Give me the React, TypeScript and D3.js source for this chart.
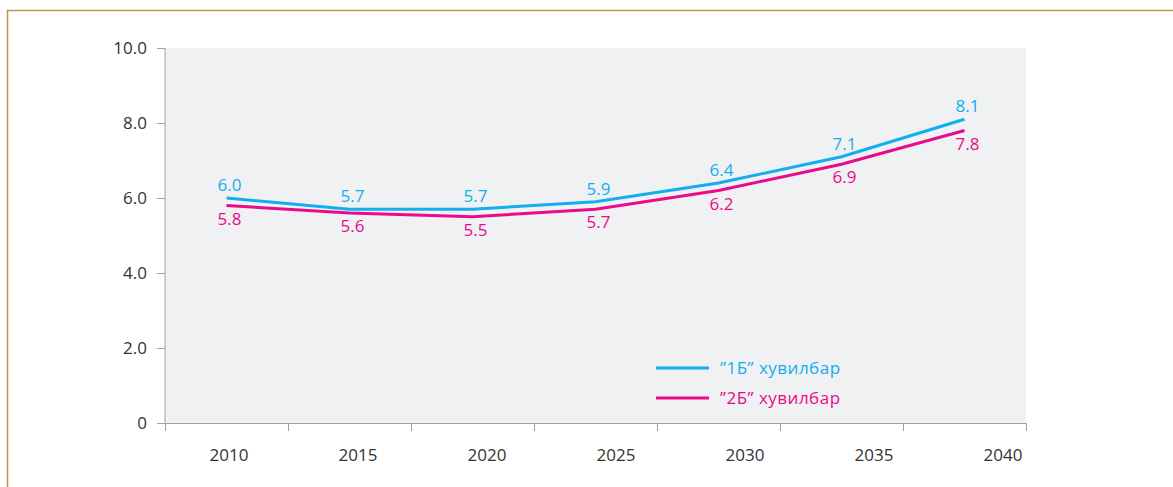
import React, { useEffect, useRef } from 'react'
import * as d3 from 'd3'

const years = ['2010', '2015', '2020', '2025', '2030', '2035', '2040']
const series1B = [6.0, 5.7, 5.7, 5.9, 6.4, 7.1, 8.1]
const series2B = [5.8, 5.6, 5.5, 5.7, 6.2, 6.9, 7.8]
const yTicks = [0, 2, 4, 6, 8, 10]
const legendNames = ['”1Б” хувилбар', '”2Б” хувилбар']

const W = 1173
const H = 487
const FONT = '"Open Sans", "Noto Sans", sans-serif'

export default function App() {
  const ref = useRef<SVGSVGElement>(null)

  useEffect(() => {
    const svg = d3.select(ref.current)
    svg.selectAll('*').remove()

    const left = 165
    const right = 1026
    const top = 48
    const bottom = 423
    const blue = '#12aeef'
    const pink = '#ea0a8c'
    const axisColor = '#a0a0a0'

    // outer frame (gold top + left rule)
    svg.append('path')
      .attr('d', `M7.5,${H} V10.5 H${W}`)
      .attr('fill', 'none')
      .attr('stroke', '#b9994e')
      .attr('stroke-width', 1.5)

    const x = d3.scaleBand().domain(years).range([left, right])
    const xLabel = d3.scalePoint().domain(years).range([left + 64, right - 23])
    const y = d3.scaleLinear().domain([0, 10]).range([bottom, top])

    svg.append('rect')
      .attr('x', left).attr('y', top)
      .attr('width', right - left).attr('height', bottom - top)
      .attr('fill', '#f0f1f3')

    // y axis
    const yAxis = svg.append('g')
    yAxis.append('line')
      .attr('x1', left).attr('x2', left).attr('y1', top).attr('y2', bottom)
      .attr('stroke', axisColor)
    yAxis.selectAll('line.tick').data(yTicks).enter().append('line')
      .attr('class', 'tick')
      .attr('x1', left - 8).attr('x2', left)
      .attr('y1', d => y(d) + 0.5).attr('y2', d => y(d) + 0.5)
      .attr('stroke', axisColor)
    yAxis.selectAll('text').data(yTicks).enter().append('text')
      .attr('x', left - 18)
      .attr('y', d => y(d))
      .attr('dy', '0.35em')
      .attr('text-anchor', 'end')
      .attr('font-family', FONT).attr('font-size', 17)
      .attr('fill', '#333')
      .text(d => (d === 0 ? '0' : d.toFixed(1)))

    // x axis
    const xAxis = svg.append('g')
    xAxis.append('line')
      .attr('x1', left).attr('x2', right).attr('y1', bottom + 0.5).attr('y2', bottom + 0.5)
      .attr('stroke', axisColor)
    const edges = years.map(d => x(d) as number).concat([right])
    xAxis.selectAll('line.tick').data(edges).enter().append('line')
      .attr('class', 'tick')
      .attr('x1', d => d + 0.5).attr('x2', d => d + 0.5)
      .attr('y1', bottom).attr('y2', bottom + 8)
      .attr('stroke', axisColor)
    xAxis.selectAll('text').data(years).enter().append('text')
      .attr('x', d => xLabel(d) as number)
      .attr('y', bottom + 38)
      .attr('text-anchor', 'middle')
      .attr('font-family', FONT).attr('font-size', 17)
      .attr('fill', '#333')
      .text(d => d)

    const cx = (i: number) => (x(years[i]) as number) + x.bandwidth() / 2
    const line = d3.line<number>().x((_, i) => cx(i)).y(d => y(d))

    const series = [
      { values: series2B, color: pink, dy: 19 },
      { values: series1B, color: blue, dy: -7 },
    ]
    series.forEach(s => {
      svg.append('path')
        .datum(s.values)
        .attr('d', line)
        .attr('fill', 'none')
        .attr('stroke', s.color)
        .attr('stroke-width', 3)
      svg.append('g').selectAll('text').data(s.values).enter().append('text')
        .attr('x', (_, i) => cx(i) + 3)
        .attr('y', d => y(d) + s.dy)
        .attr('text-anchor', 'middle')
        .attr('font-family', FONT).attr('font-size', 17)
        .attr('fill', s.color)
        .text(d => d.toFixed(1))
    })

    // legend
    const legend = svg.append('g')
    const legendColors = [blue, pink]
    legendNames.forEach((name, i) => {
      const ly = 368 + i * 30
      legend.append('line')
        .attr('x1', 656).attr('x2', 709).attr('y1', ly).attr('y2', ly)
        .attr('stroke', legendColors[i]).attr('stroke-width', 3)
      legend.append('text')
        .attr('x', 720).attr('y', ly)
        .attr('dy', '0.35em')
        .attr('font-family', FONT).attr('font-size', 17)
        .attr('letter-spacing', 0.5)
        .attr('fill', legendColors[i])
        .text(name)
    })
  }, [])

  return (
    <svg ref={ref} width={W} height={H}
      style={{ position: 'absolute', left: 0, top: 0, background: '#fff' }} />
  )
}
